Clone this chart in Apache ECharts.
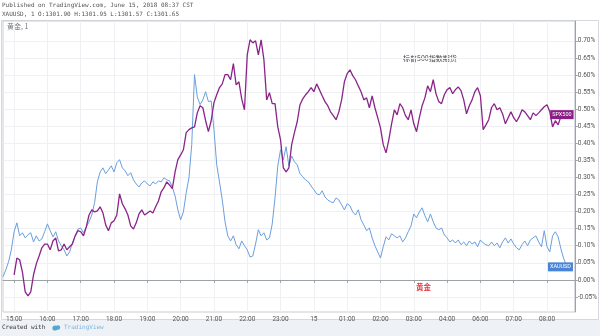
<!DOCTYPE html>
<html><head><meta charset="utf-8">
<script src="https://cdn.jsdelivr.net/npm/echarts@6/dist/echarts.min.js"></script>
<style>html,body{margin:0;padding:0;background:#fff}#c{width:600px;height:336px}</style>
</head><body><div id="c"></div>
<script>
// 5-minute samples, 14:40 → 08:50 (market break hour 05:xx skipped on the time axis)
const firstTime = [14, 40];
const lastTime = [8, 50];
const skippedHour = 5;
const yTicks = [-0.05, 0.00, 0.05, 0.10, 0.15, 0.20, 0.25, 0.30, 0.35, 0.40, 0.45, 0.50, 0.55, 0.60, 0.65, 0.70];

const goldName = 'XAUUSD';
const spxName = 'SPX500';

const goldValues = [
0.009,0.029,0.053,0.088,0.141,0.167,0.129,0.138,0.123,0.132,
0.138,0.111,0.129,0.114,0.120,0.141,0.164,0.144,0.126,0.141,
0.114,0.100,0.088,0.070,0.082,0.108,0.129,0.149,0.152,0.138,
0.155,0.170,0.190,0.226,0.287,0.316,0.328,0.311,0.322,0.334,
0.316,0.343,0.352,0.328,0.319,0.305,0.314,0.293,0.281,0.272,
0.284,0.290,0.281,0.275,0.287,0.281,0.290,0.287,0.299,0.293,
0.290,0.272,0.246,0.205,0.176,0.199,0.255,0.299,0.396,0.601,
0.536,0.513,0.527,0.551,0.522,0.524,0.440,0.337,0.287,0.234,
0.170,0.129,0.114,0.129,0.103,0.091,0.114,0.100,0.088,0.067,
0.070,0.105,0.147,0.129,0.138,0.117,0.123,0.164,0.240,0.334,
0.381,0.352,0.390,0.334,0.363,0.346,0.337,0.311,0.302,0.293,
0.287,0.275,0.264,0.252,0.249,0.261,0.243,0.234,0.229,0.226,
0.240,0.234,0.220,0.205,0.223,0.217,0.199,0.190,0.205,0.176,
0.161,0.144,0.152,0.123,0.100,0.082,0.064,0.097,0.126,0.117,
0.135,0.129,0.123,0.129,0.111,0.123,0.141,0.158,0.193,0.182,
0.199,0.211,0.188,0.170,0.193,0.170,0.152,0.147,0.152,0.132,
0.123,0.111,0.117,0.108,0.117,0.103,0.111,0.100,0.114,0.105,
0.111,0.097,0.117,0.108,0.103,0.100,0.111,0.100,0.108,0.094,
0.111,0.123,0.108,0.120,0.105,0.094,0.088,0.103,0.114,0.100,
0.117,0.123,0.129,0.111,0.097,0.144,0.097,0.082,0.129,0.141,
0.126,0.091,0.062,0.044
];

const spxValues = [
null,null,null,null,
0.015,0.064,0.059,0.023,-0.035,-0.047,-0.035,0.015,0.047,0.070,
0.094,0.105,0.105,0.088,0.114,0.123,0.085,0.088,0.105,0.088,
0.097,0.105,0.129,0.144,0.141,0.129,0.155,0.190,0.205,0.199,
0.202,0.214,0.196,0.161,0.144,0.167,0.173,0.190,0.252,0.223,
0.208,0.190,0.158,0.149,0.167,0.193,0.205,0.190,0.196,0.202,
0.196,0.214,0.231,0.258,0.270,0.287,0.278,0.267,0.316,0.352,
0.366,0.381,0.431,0.440,0.445,0.448,0.489,0.510,0.504,0.466,
0.434,0.466,0.519,0.542,0.563,0.574,0.601,0.601,0.586,0.633,
0.571,0.580,0.530,0.498,0.659,0.703,0.694,0.700,0.659,0.703,
0.645,0.527,0.548,0.516,0.516,0.448,0.410,0.328,0.316,0.328,
0.396,0.431,0.463,0.513,0.530,0.542,0.551,0.563,0.551,0.574,
0.557,0.539,0.522,0.510,0.492,0.481,0.469,0.492,0.527,0.580,
0.604,0.615,0.598,0.586,0.568,0.551,0.527,0.533,0.504,0.539,
0.504,0.475,0.445,0.396,0.372,0.410,0.457,0.498,0.483,0.516,
0.504,0.481,0.469,0.498,0.457,0.434,0.475,0.510,0.533,0.568,
0.551,0.586,0.545,0.522,0.516,0.542,0.557,0.563,0.545,0.557,
0.565,0.554,0.527,0.486,0.510,0.527,0.551,0.563,0.539,0.440,
0.454,0.469,0.504,0.516,0.498,0.504,0.486,0.457,0.475,0.492,
0.475,0.463,0.478,0.498,0.492,0.481,0.469,0.489,0.481,0.489,
0.498,0.507,0.513,0.492,0.448,0.466,0.454,0.478
];

function pad(n){ return (n < 10 ? '0' : '') + n; }
const categories = [];
(function(){
  let h = firstTime[0], m = firstTime[1];
  while (true) {
    if (h !== skippedHour) categories.push(pad(h) + ':' + pad(m));
    if (h === lastTime[0] && m === lastTime[1]) break;
    m += 5; if (m === 60) { m = 0; h = (h + 1) % 24; }
  }
})();
const onHour = (i, v) => /:00$/.test(v);
const xLabel = v => v === '00:00' ? '15' : v;

const goldLast = goldValues.length - 1;
let spxLast = spxValues.length - 1;
while (spxValues[spxLast] == null) spxLast--;

const mono = 'DejaVu Sans Mono';
const cjk = 'Noto Sans CJK SC';
const chart = echarts.init(document.getElementById('c'), null, {renderer: 'canvas'});
chart.setOption({
  animation: false,
  backgroundColor: '#ffffff',
  grid: { left: 3, right: 22, top: 21, bottom: 24, show: true, borderColor: '#c9cdd2', borderWidth: 1, backgroundColor: 'transparent' },
  xAxis: {
    type: 'category', data: categories, boundaryGap: false,
    axisLine: { lineStyle: { color: '#9ea3a8', width: 1 } },
    axisTick: { show: true, interval: onHour, length: 3, lineStyle: { color: '#9ea3a8' } },
    axisLabel: { interval: onHour, formatter: xLabel, fontSize: 6.5, color: '#555', margin: 4, fontFamily: 'Roboto, sans-serif' },
    splitLine: { show: true, interval: onHour, lineStyle: { color: '#eef0f3', width: 1 } }
  },
  yAxis: {
    type: 'value', position: 'right', min: -0.094, max: 0.758,
    axisLine: { show: true, lineStyle: { color: '#9ea3a8', width: 1 } },
    axisTick: { show: true, length: 3, customValues: yTicks, lineStyle: { color: '#9ea3a8' } },
    axisLabel: { customValues: yTicks, formatter: v => v.toFixed(2) + '%', fontSize: 6.5, color: '#555', margin: 3, fontFamily: 'Roboto, sans-serif' },
    splitLine: { show: true, lineStyle: { color: '#eef0f3', width: 1 } }
  },
  series: [
    {
      name: goldName, type: 'line', data: goldValues, showSymbol: false, symbol: 'none',
      lineStyle: { color: '#6b9fdc', width: 1 }, z: 2,
      markPoint: {
        symbol: 'rect', symbolSize: 0,
        data: [{ coord: [categories[goldLast], goldValues[goldLast]],
          label: { show: true, formatter: goldName, position: 'inside', offset: [-6, 2], color: '#fff', backgroundColor: '#4a84d6', fontSize: 5.5, padding: [2, 2, 1, 2], fontFamily: 'Roboto, sans-serif' } }]
      }
    },
    {
      name: spxName, type: 'line', data: spxValues, showSymbol: false, symbol: 'none',
      lineStyle: { color: '#8a2489', width: 1.3 }, z: 3,
      markPoint: {
        symbol: 'rect', symbolSize: 0,
        data: [{ coord: [categories[spxLast], spxValues[spxLast]],
          label: { show: true, formatter: spxName, position: 'inside', offset: [1, -2], color: '#fff', backgroundColor: '#8a1e86', fontSize: 5.5, padding: [2, 2, 1, 2], fontFamily: 'Roboto, sans-serif' } }]
      }
    }
  ],
  graphic: [
    { type: 'rect', z: -10, shape: { x: 0, y: 320, width: 600, height: 16 }, style: { fill: '#eef2f6' } },
    { type: 'rect', z: -5, shape: { x: 1.5, y: 20.5, width: 597, height: 299 }, style: { fill: 'none', stroke: '#d5d9de', lineWidth: 1 } },
    { type: 'text', style: { text: 'Published on TradingView.com, June 15, 2018 08:37 CST', x: 2, y: 2, fill: '#555', fontSize: 6, fontFamily: mono } },
    { type: 'text', style: { text: 'XAUUSD, 1 O:1301.90 H:1301.95 L:1301.57 C:1301.65', x: 2, y: 11, fill: '#555', fontSize: 6, fontFamily: mono } },
    { type: 'text', style: { text: '黄金, 1', x: 7, y: 23, fill: '#777', fontSize: 7, fontFamily: cjk } },
    { type: 'text', style: { text: '标普500指数期货', x: 403, y: 55, fill: '#444', fontSize: 7, fontFamily: cjk } },
    { type: 'text', style: { text: '黄金', x: 416, y: 283, fill: '#e8353b', fontSize: 7.5, fontWeight: 'bold', fontFamily: cjk } },
    { type: 'text', style: { text: 'Created with', x: 2, y: 324, fill: '#333', fontSize: 6, fontFamily: mono } },
    { type: 'circle', shape: { cx: 55, cy: 328, r: 2.6 }, style: { fill: '#52a6d8' } },
    { type: 'circle', shape: { cx: 58, cy: 327.5, r: 2.2 }, style: { fill: '#52a6d8' } },
    { type: 'text', style: { text: 'TradingView', x: 64, y: 324, fill: '#7fb6e0', fontSize: 6, fontFamily: mono } }
  ]
});
</script>
</body></html>
